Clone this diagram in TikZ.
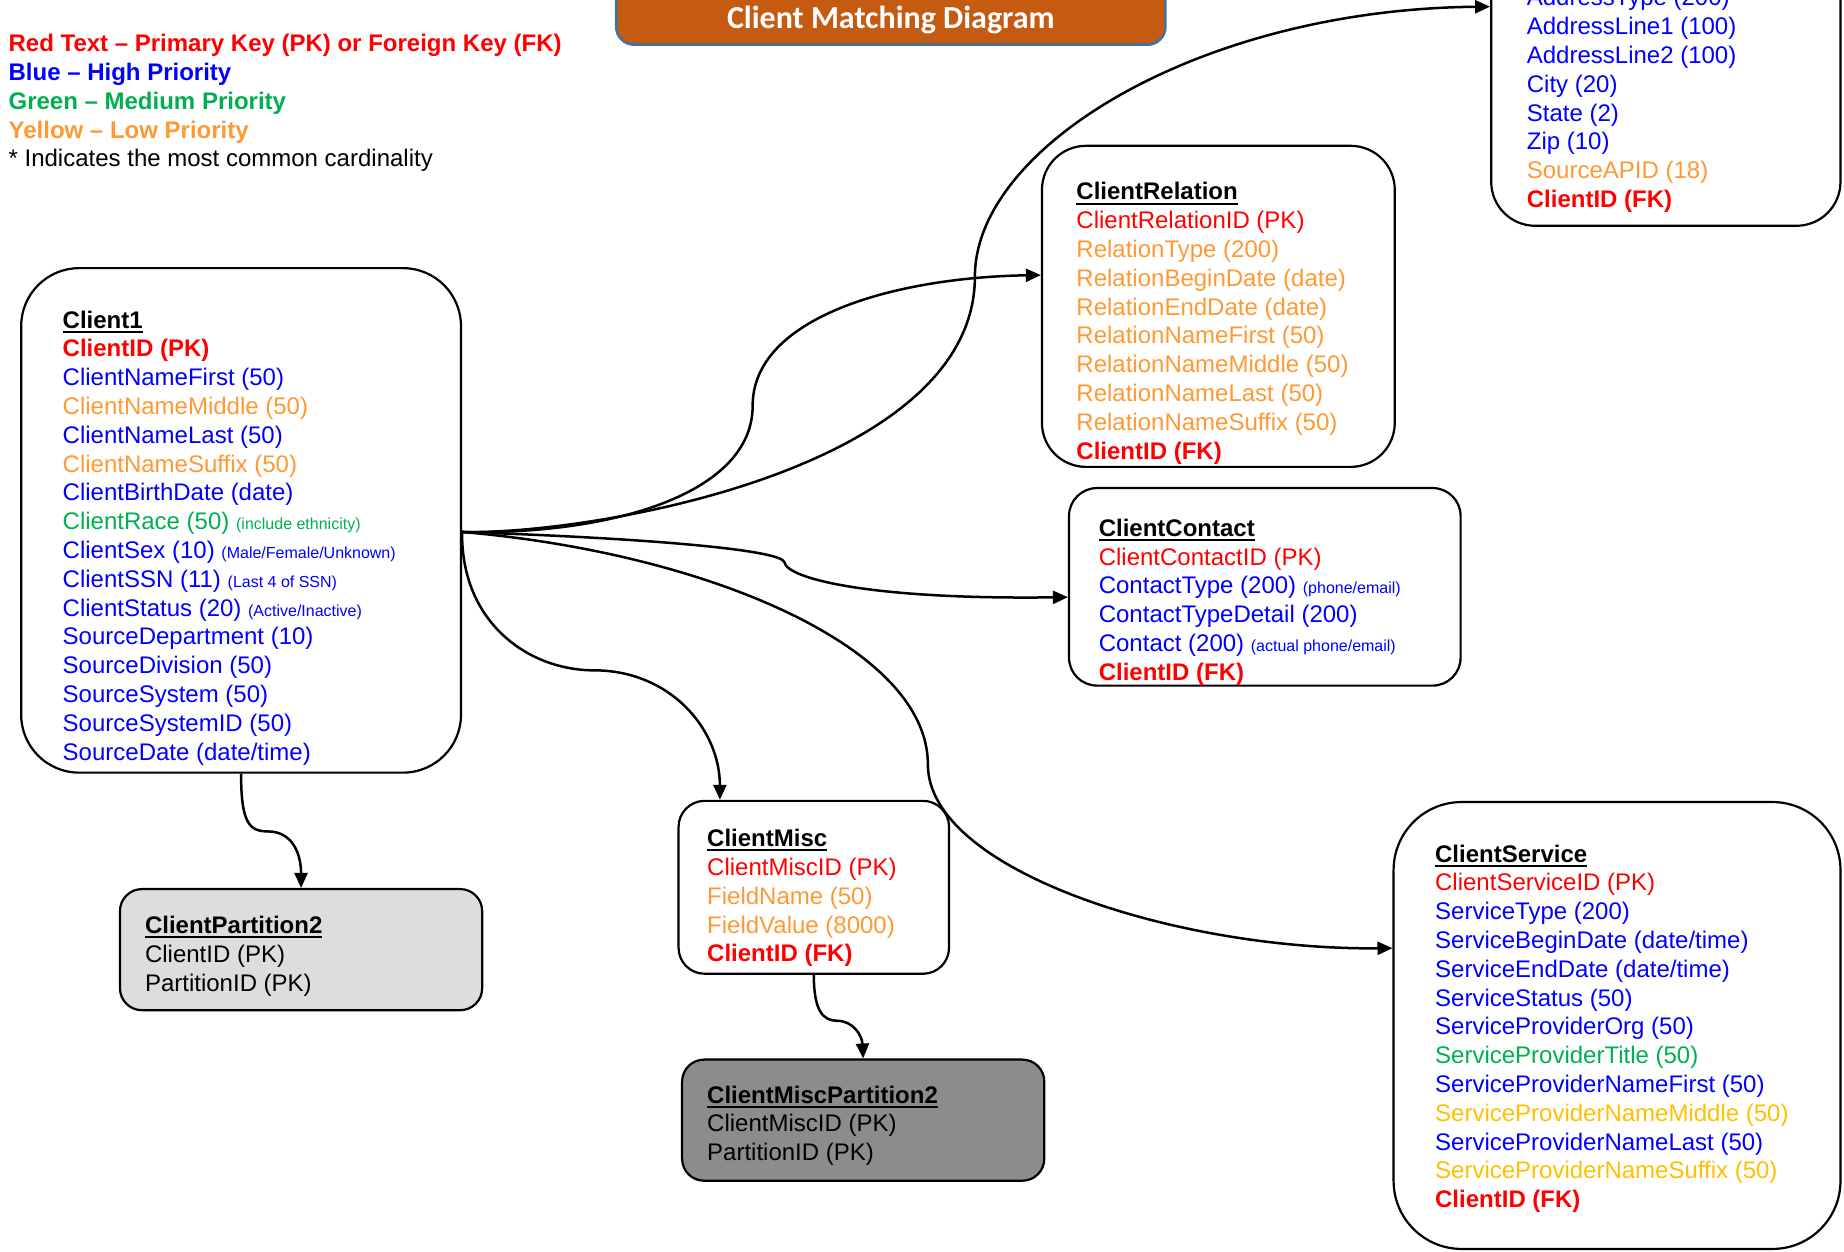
\documentclass[tikz,border=0pt]{standalone}
\usepackage{fontspec}
\setmainfont{Liberation Sans}
\newfontfamily\titlefont{Carlito}
\usetikzlibrary{arrows.meta}
\definecolor{kred}{HTML}{FF0000}
\definecolor{kblue}{HTML}{0000FF}
\definecolor{kgreen}{HTML}{00B050}
\definecolor{korange}{HTML}{FF9933}
\definecolor{kyellow}{HTML}{FFC000}
\definecolor{ltgray}{HTML}{DDDDDD}
\definecolor{dkgray}{HTML}{8C8C8C}
\definecolor{ttlfill}{HTML}{C55A11}
\definecolor{ttldraw}{HTML}{41719C}
\newcommand\kr[1]{\textcolor{kred}{#1}}
\newcommand\kb[1]{\textcolor{kblue}{#1}}
\newcommand\kg[1]{\textcolor{kgreen}{#1}}
\newcommand\ko[1]{\textcolor{korange}{#1}}
\newcommand\ky[1]{\textcolor{kyellow}{#1}}
\newcommand\sn[1]{{\fontsize{8}{9}\selectfont #1}}
\newcommand\hdr[1]{\setbox0\hbox{\bfseries #1}\rlap{\copy0}\rule[-2.3pt]{\wd0}{1pt}}
\begin{document}
\begin{tikzpicture}[x=0.588pt,y=-0.588pt,
  tbox/.style={draw=black,line width=1.1pt,fill=white,inner sep=0pt},
  tx/.style={anchor=base west,inner sep=0pt,font=\fontsize{12}{14.4}\selectfont},
  conn/.style={line width=1.25pt,-{Triangle[length=7.5pt,width=6.5pt]}}]
\useasboundingbox (0,0) rectangle (1568,1064);
\clip (0,0) rectangle (1568,1064);
\fill[white] (0,0) rectangle (1568,1064);

% title
\node[draw=ttldraw,line width=1.3pt,fill=ttlfill,rounded corners=9pt,inner sep=0pt,
  minimum width={467*0.588pt},minimum height={98*0.588pt}] (ttlbox) at (757.5,-11) {};
\node[anchor=base,inner sep=0pt,text=white,font=\titlefont\bfseries\fontsize{16}{19}\selectfont] (ttl) at (757.5,24) {Client Matching Diagram};

% legend
\node[tx] (leg) at (7,44) {\begin{tabular}[t]{@{}l@{}}
\kr{\bfseries Red Text – Primary Key (PK) or Foreign Key (FK)}\\
\kb{\bfseries Blue – High Priority}\\
\kg{\bfseries Green – Medium Priority}\\
\ko{\bfseries Yellow – Low Priority}\\
\relax{*} Indicates the most common cardinality
\end{tabular}};

% boxes
\node[tbox,rounded corners=29pt,minimum width={374*0.588pt},minimum height={429*0.588pt}] (c1) at (205,442.5) {};
\node[tbox,rounded corners=22pt,minimum width={300*0.588pt},minimum height={273*0.588pt}] (cr) at (1036,260.5) {};
\node[tbox,rounded corners=22pt,minimum width={297*0.588pt},minimum height={287*0.588pt}] (addr) at (1416.5,48.5) {};
\node[tbox,rounded corners=14pt,minimum width={333*0.588pt},minimum height={168*0.588pt}] (cc) at (1075.5,499) {};
\node[tbox,rounded corners=13pt,minimum width={230*0.588pt},minimum height={147*0.588pt}] (cm) at (692,754.5) {};
\node[tbox,fill=dkgray,rounded corners=11pt,minimum width={308*0.588pt},minimum height={103*0.588pt}] (cmp) at (734,952.5) {};
\node[tbox,fill=ltgray,rounded corners=11pt,minimum width={308*0.588pt},minimum height={103*0.588pt}] (cp) at (256,807.5) {};
\node[tbox,rounded corners=34pt,minimum width={380*0.588pt},minimum height={380*0.588pt}] (cs) at (1375,872) {};

% texts
\node[tx] (t1) at (53,279) {\begin{tabular}[t]{@{}l@{}}
\hdr{Client1}\\
\kr{\bfseries ClientID (PK)}\\
\kb{ClientNameFirst (50)}\\
\ko{ClientNameMiddle (50)}\\
\kb{ClientNameLast (50)}\\
\ko{ClientNameSuffix (50)}\\
\kb{ClientBirthDate (date)}\\
\kg{ClientRace (50) \sn{(include ethnicity)}}\\
\kb{ClientSex (10) \sn{(Male/Female/Unknown)}}\\
\kb{ClientSSN (11) \sn{(Last 4 of SSN)}}\\
\kb{ClientStatus (20) \sn{(Active/Inactive)}}\\
\kb{SourceDepartment (10)}\\
\kb{SourceDivision (50)}\\
\kb{SourceSystem (50)}\\
\kb{SourceSystemID (50)}\\
\kb{SourceDate (date/time)}
\end{tabular}};

\node[tx] (t2) at (915,170) {\begin{tabular}[t]{@{}l@{}}
\hdr{ClientRelation}\\
\kr{ClientRelationID (PK)}\\
\ko{RelationType (200)}\\
\ko{RelationBeginDate (date)}\\
\ko{RelationEndDate (date)}\\
\ko{RelationNameFirst (50)}\\
\ko{RelationNameMiddle (50)}\\
\ko{RelationNameLast (50)}\\
\ko{RelationNameSuffix (50)}\\
\kr{\bfseries ClientID (FK)}
\end{tabular}};

\node[tx] (t3) at (1298,5) {\begin{tabular}[t]{@{}l@{}}
\kb{AddressType (200)}\\
\kb{AddressLine1 (100)}\\
\kb{AddressLine2 (100)}\\
\kb{City (20)}\\
\kb{State (2)}\\
\kb{Zip (10)}\\
\ko{SourceAPID (18)}\\
\kr{\bfseries ClientID (FK)}
\end{tabular}};

\node[tx] (t4) at (934,456) {\begin{tabular}[t]{@{}l@{}}
\hdr{ClientContact}\\
\kr{ClientContactID (PK)}\\
\kb{ContactType (200) \sn{(phone/email)}}\\
\kb{ContactTypeDetail (200)}\\
\kb{Contact (200) \sn{(actual phone/email)}}\\
\kr{\bfseries ClientID (FK)}
\end{tabular}};

\node[tx] (t5) at (601,720) {\begin{tabular}[t]{@{}l@{}}
\hdr{ClientMisc}\\
\kr{ClientMiscID (PK)}\\
\ko{FieldName (50)}\\
\ko{FieldValue (8000)}\\
\kr{\bfseries ClientID (FK)}
\end{tabular}};

\node[tx] (t6) at (601,938) {\begin{tabular}[t]{@{}l@{}}
\hdr{ClientMiscPartition2}\\
ClientMiscID (PK)\\
PartitionID (PK)
\end{tabular}};

\node[tx] (t7) at (123,794) {\begin{tabular}[t]{@{}l@{}}
\hdr{ClientPartition2}\\
ClientID (PK)\\
PartitionID (PK)
\end{tabular}};

\node[tx] (t8) at (1220,733) {\begin{tabular}[t]{@{}l@{}}
\hdr{ClientService}\\
\kr{ClientServiceID (PK)}\\
\kb{ServiceType (200)}\\
\kb{ServiceBeginDate (date/time)}\\
\kb{ServiceEndDate (date/time)}\\
\kb{ServiceStatus (50)}\\
\kb{ServiceProviderOrg (50)}\\
\kg{ServiceProviderTitle (50)}\\
\kb{ServiceProviderNameFirst (50)}\\
\ky{ServiceProviderNameMiddle (50)}\\
\kb{ServiceProviderNameLast (50)}\\
\ky{ServiceProviderNameSuffix (50)}\\
\kr{\bfseries ClientID (FK)}
\end{tabular}};

% connectors
\draw[conn] (c1.-3.8) .. controls (500,455) and (829,400) .. (829,235) .. controls (829,125) and (1020,8) .. (addr.164.7);
\draw[conn] (c1.-3.8) .. controls (520,455) and (640,420) .. (640,345) .. controls (640,270) and (760,236) .. (cr.170.7);
\draw[conn] (c1.-3.8) .. controls (560,458) and (664,468) .. (667,478) .. controls (669,492) and (740,510) .. (cc.183.8);
\draw[conn] (c1.-3.8) .. controls (600,470) and (789,550) .. (789,650) .. controls (789,740) and (1000,808) .. (cs.161.4);
\draw[conn] (c1.-3.8) .. controls (392,530) and (450,570) .. (505,570) .. controls (570,570) and (612,620) .. (cm.137.4);
\draw[conn] (c1.south) .. controls (205,700) and (212,707) .. (228,707) .. controls (248,707) and (256,725) .. (cp.north);
\draw[conn] (cm.south) .. controls (692,860) and (700,868) .. (712,868) .. controls (725,868) and (733,880) .. (cmp.north);
\end{tikzpicture}
\end{document}
